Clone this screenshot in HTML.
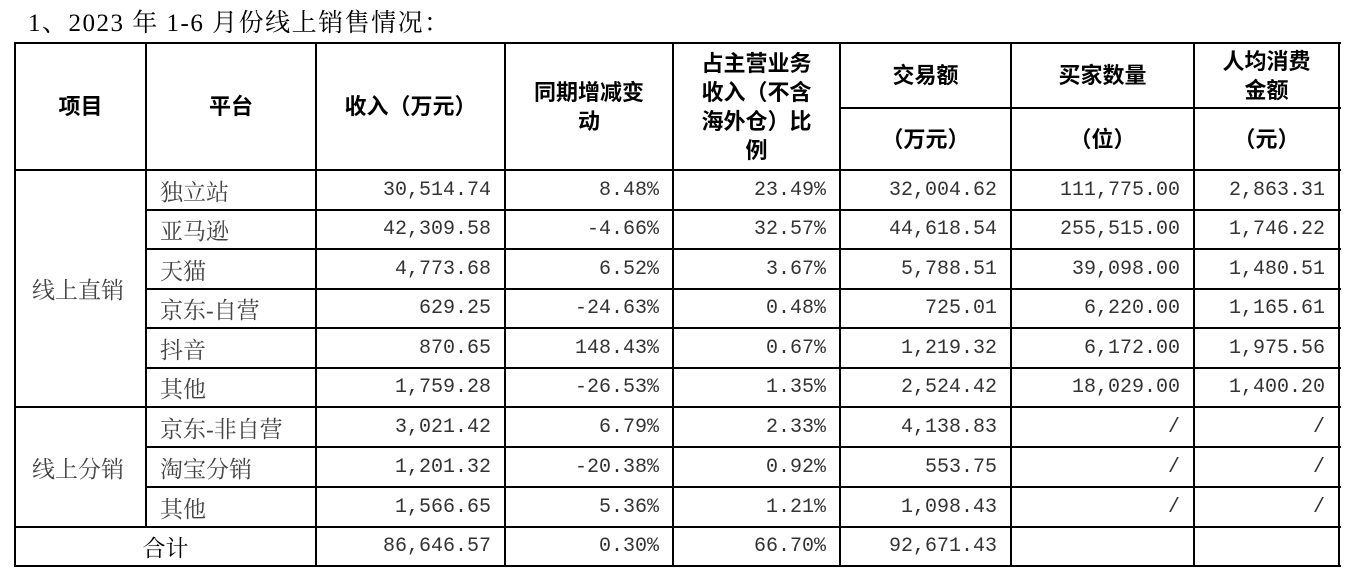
<!DOCTYPE html>
<html><head><meta charset="utf-8"><style>
body{margin:0;width:1356px;height:578px;background:#fff;position:relative;overflow:hidden}
.t{position:absolute;left:28px;top:3px;font:25px "Liberation Serif","Noto Serif CJK SC",serif;color:#000;letter-spacing:1.5px}
.h{position:absolute;background:#000;height:2px}
.v{position:absolute;background:#000;width:2px}
.c{position:absolute;display:flex;align-items:center;box-sizing:border-box}
.hd{font:bold 22px "Liberation Sans","Noto Sans CJK SC",sans-serif;color:#000;justify-content:center;text-align:center;line-height:29px}
.tx{font:23px "Liberation Serif","Noto Serif CJK SC",serif;color:#444}
.n{font:20px "Liberation Mono","Noto Serif CJK SC",monospace;color:#333;justify-content:flex-end;padding-right:14px}
</style></head><body>
<div class="t">1、2023 年 1-6 月份线上销售情况：</div>
<div id="g"></div>
<script>
const X=[15,146,316,505,673,840,1011,1194,1339];
const Y=[43,170,210,249,289,328,368,407,447,487,527,566];
let h='';
const hl=(x1,x2,y)=>h+=`<div class="h" style="left:${x1}px;top:${y-1}px;width:${x2-x1+2}px"></div>`;
const vl=(x,y1,y2)=>h+=`<div class="v" style="left:${x-1}px;top:${y1-1}px;height:${y2-y1+2}px"></div>`;
const cell=(cls,x1,x2,y1,y2,t)=>h+=`<div class="c ${cls}" style="left:${x1}px;top:${y1}px;width:${x2-x1}px;height:${y2-y1}px">${t}</div>`;
hl(X[0],X[8],Y[0]);hl(X[0],X[8],Y[1]);hl(X[5],X[8],108);
for(let i=2;i<Y.length;i++){hl(i==7||i==10||i==11?X[0]:X[1],X[8],Y[i]);}
vl(X[0],Y[0],Y[11]);vl(X[8],Y[0],Y[11]);
vl(X[1],Y[0],Y[10]);
for(let i=2;i<8;i++)vl(X[i],Y[0],Y[11]);
const H=['项目','平台','收入（万元）','同期增减变<br>动','占主营业务<br>收入（不含<br>海外仓）比<br>例'];
H.forEach((t,i)=>cell('hd',X[i],X[i+1],Y[0],Y[1],t));
['交易额','买家数量','人均消费<br>金额'].forEach((t,i)=>cell('hd',X[5+i],X[6+i],Y[0],108,t));
['（万元）','（位）','（元）'].forEach((t,i)=>cell('hd',X[5+i],X[6+i],108,Y[1],t));
const D=[['独立站','30,514.74','8.48%','23.49%','32,004.62','111,775.00','2,863.31'],
['亚马逊','42,309.58','-4.66%','32.57%','44,618.54','255,515.00','1,746.22'],
['天猫','4,773.68','6.52%','3.67%','5,788.51','39,098.00','1,480.51'],
['京东-自营','629.25','-24.63%','0.48%','725.01','6,220.00','1,165.61'],
['抖音','870.65','148.43%','0.67%','1,219.32','6,172.00','1,975.56'],
['其他','1,759.28','-26.53%','1.35%','2,524.42','18,029.00','1,400.20'],
['京东-非自营','3,021.42','6.79%','2.33%','4,138.83','/','/'],
['淘宝分销','1,201.32','-20.38%','0.92%','553.75','/','/'],
['其他','1,566.65','5.36%','1.21%','1,098.43','/','/']];
D.forEach((r,j)=>{cell('tx',X[1]+14,X[2],Y[j+1],Y[j+2],r[0]);
for(let k=1;k<7;k++)cell('n',X[k+1],X[k+2],Y[j+1],Y[j+2],r[k]);});
cell('tx',X[0]+17,X[1],Y[1],Y[7],'线上直销');
cell('tx',X[0]+17,X[1],Y[7],Y[10],'线上分销');
h+=`<div class="c tx" style="left:${X[0]}px;top:${Y[10]}px;width:${X[2]-X[0]}px;height:39px;justify-content:center;color:#000">合计</div>`;
['86,646.57','0.30%','66.70%','92,671.43'].forEach((t,i)=>cell('n',X[i+2],X[i+3],Y[10],Y[11],t));
document.getElementById('g').innerHTML=h;
</script>
</body></html>
